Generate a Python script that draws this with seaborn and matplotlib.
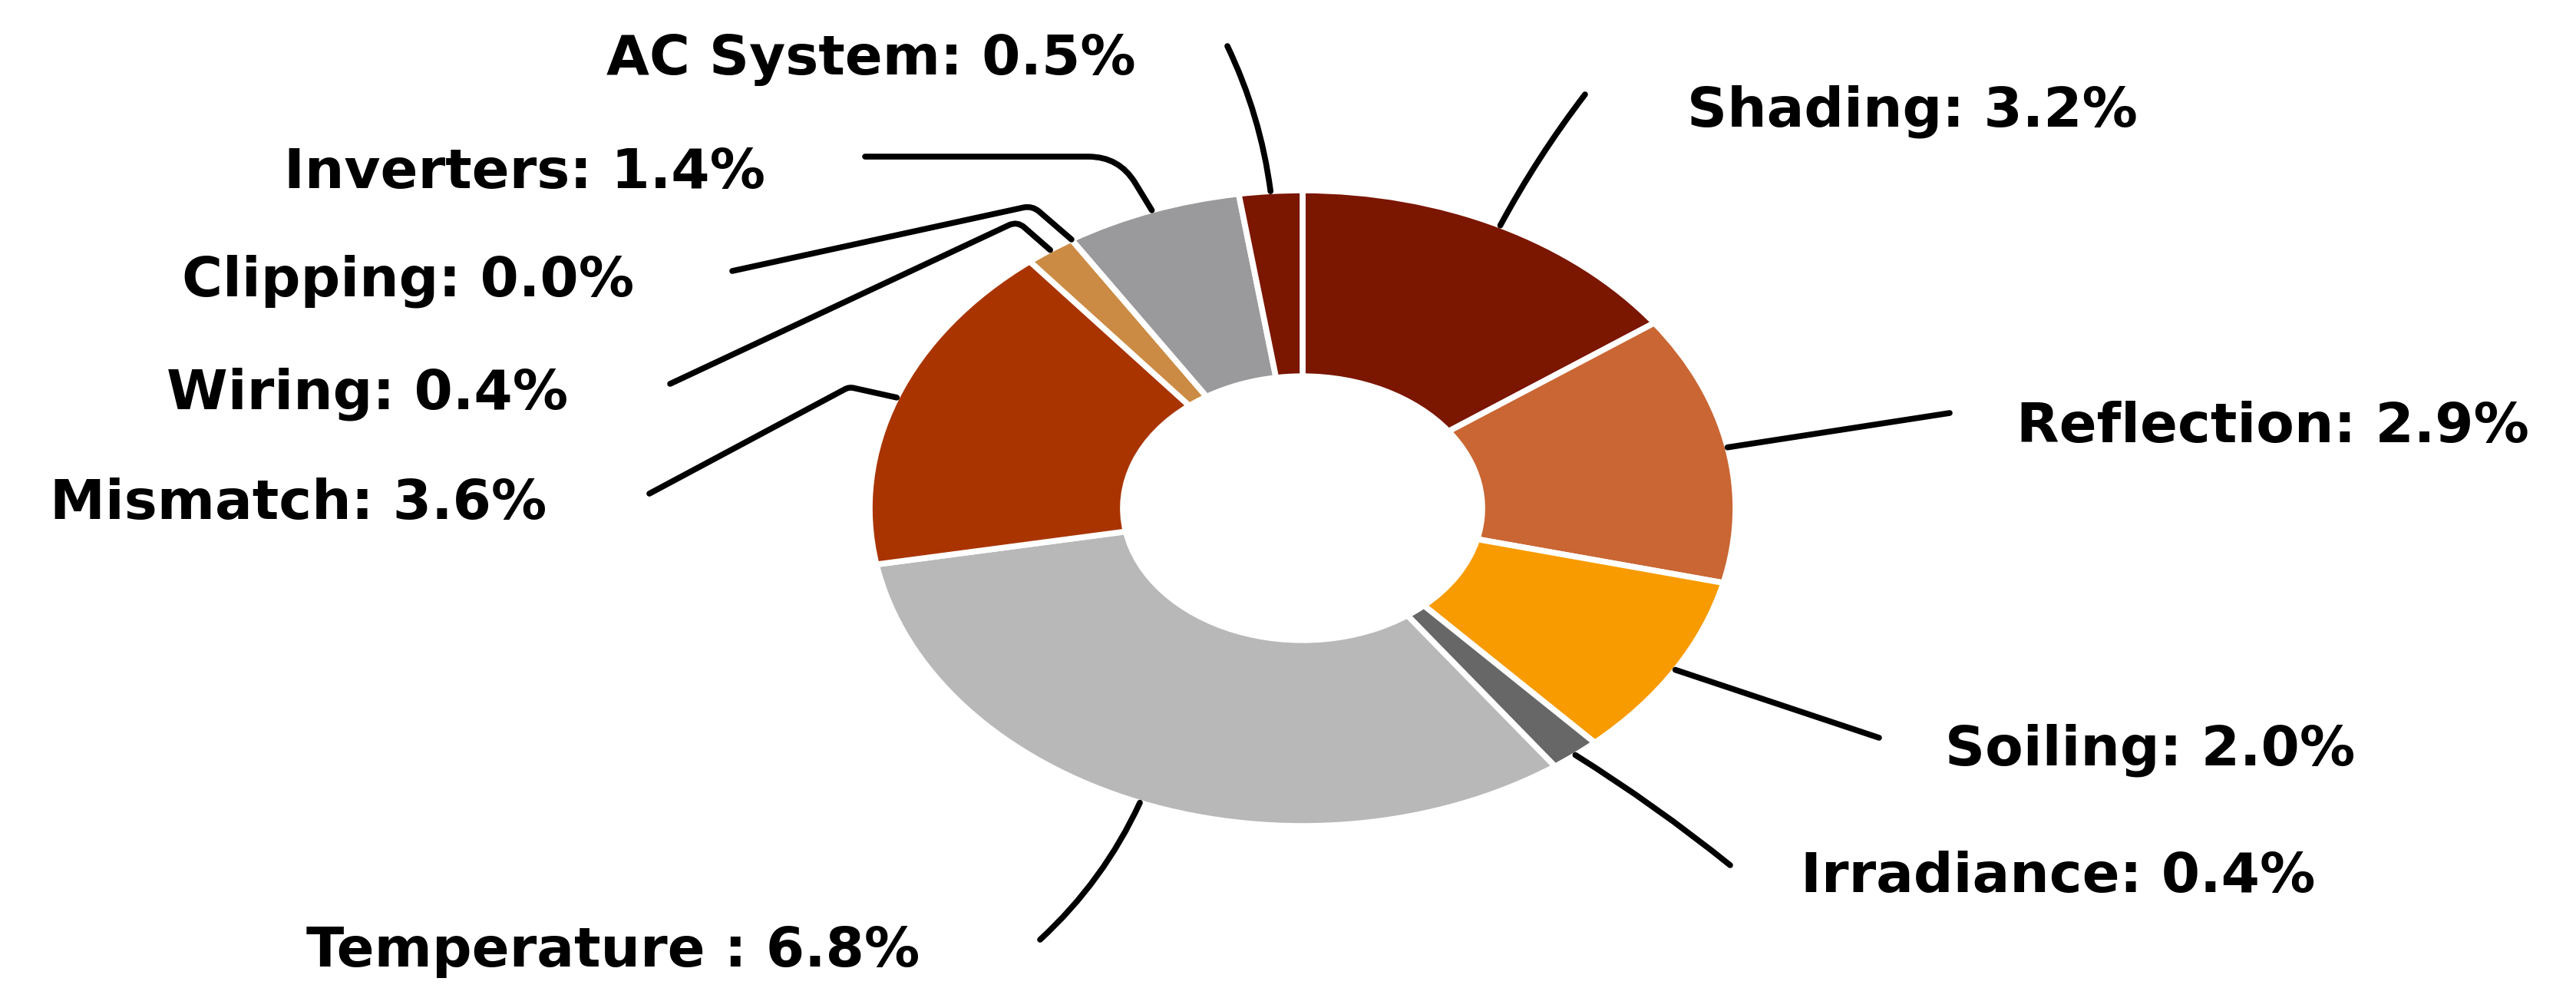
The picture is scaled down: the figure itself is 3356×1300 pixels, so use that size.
import numpy as np
import seaborn as sns
import matplotlib.pyplot as plt

sns.set_theme(style="white")
plt.rcParams['font.family'] = ['DejaVu Sans']

# data
categories = ["Shading", "Reflection", "Soiling", "Irradiance", "Temperature",
               "Mismatch", "Wiring", "Clipping", "Inverters", "AC System"]
losses = [3.2, 2.9, 2.0, 0.4, 6.8, 3.6, 0.4, 0.0, 1.4, 0.5]
colors = ["#7B1600", "#C96633", "#F89B00", "#676767", "#B8B8B8",
          "#A93400", "#CC8B44", "#E0B070", "#9A9A9C", "#7B1600"]

# layout, in pixels of the 3356x1300 canvas (y measured from the top)
W, H = 3356, 1300
cx, cy, rx, ry = 1697, 662, 564, 414

label_pos = {
    "Shading": (2198, 164, "left"),
    "Reflection": (2627, 576, "left"),
    "Soiling": (2534, 997, "left"),
    "Irradiance": (2346, 1162, "left"),
    "Temperature": (1198, 1259, "right"),
    "Mismatch": (712, 676, "right"),
    "Wiring": (740, 533, "right"),
    "Clipping": (826, 385, "right"),
    "Inverters": (997, 245, "right"),
    "AC System": (1480, 97, "right"),
}
line_end = {
    "Shading": (2065, 123),
    "Reflection": (2540, 538),
    "Soiling": (2448, 961),
    "Irradiance": (2254, 1127),
    "Temperature": (1355, 1224),
    "Mismatch": (846, 643),
    "Wiring": (873, 500),
    "Clipping": (954, 353),
    "Inverters": (1127, 204),
    "AC System": (1599, 60),
}
elbow = {
    "Mismatch": ((1106, 504), 6),
    "Wiring": ((1325, 288), 12),
    "Clipping": ((1345, 268), 12),
    "Inverters": ((1458, 204), 40),
}
arc_rad = {"Shading": 0.04, "Temperature": 0.1, "AC System": -0.08, "Irradiance": 0.03}

fig = plt.figure(figsize=(W / 100, H / 100), dpi=100)
ax = fig.add_axes([0, 0, 1, 1])
wedges, _ = ax.pie(losses, colors=colors, startangle=90, counterclock=False, radius=1,
                   wedgeprops=dict(width=0.585, edgecolor="white", linewidth=5.5))
ax.set_aspect("auto")
ax.set_xlim(-cx / rx, (W - cx) / rx)
ax.set_ylim(-(H - cy) / ry, cy / ry)
ax.axis("off")


def fig_px(x, y):
    return x, H - y


for w, name, val in zip(wedges, categories, losses):
    mid = np.deg2rad((w.theta1 + w.theta2) / 2)
    anchor = (np.cos(mid), np.sin(mid))
    bx, by = ax.transData.transform(anchor)
    ex, ey = fig_px(*line_end[name])
    if name in elbow:
        (kx, ky), r = elbow[name]
        kx, ky = fig_px(kx, ky)
        a_a = np.degrees(np.arctan2(ky - ey, kx - ex))
        a_b = np.degrees(np.arctan2(by - ky, bx - kx))
        cs = f"angle,angleA={a_a:.1f},angleB={a_b:.1f},rad={r}"
    else:
        cs = f"arc3,rad={arc_rad.get(name, 0)}"
    ax.annotate("", xy=anchor, xycoords="data", xytext=(ex, ey), textcoords="figure pixels",
                arrowprops=dict(arrowstyle="-", color="black", lw=5.5,
                                shrinkA=0, shrinkB=0, connectionstyle=cs))
    tx, ty, ha = label_pos[name]
    sep = " : " if name == "Temperature" else ": "
    fig.text(tx / W, 1 - ty / H, f"{name}{sep}{val:.1f}%", ha=ha, va="baseline",
             fontsize=52, fontweight="bold", color="black")

fig.savefig("out.png", dpi=100, facecolor="white")
